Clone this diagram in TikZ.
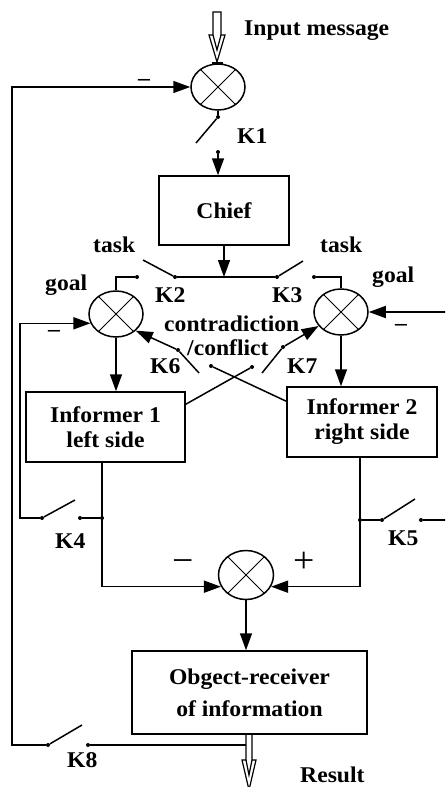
\documentclass[tikz,border=0pt]{standalone}
\usepackage{fontspec}
\setmainfont{Liberation Serif}[FakeStretch=1.05]
\usetikzlibrary{arrows.meta,shapes.geometric,calc}
\begin{document}
\begin{tikzpicture}[x=1pt,y=-1pt,
  every node/.style={font=\fontsize{22.5}{25}\selectfont\bfseries},
  lw/.style={line width=1.5pt},
  arr/.style={lw,-{Triangle[length=17pt,width=12pt]}},
  sum/.style={draw,lw,ellipse,minimum width=54pt,minimum height=46pt,inner sep=0pt},
  box/.style={draw,lw,rectangle,fill=white,align=center,inner sep=0pt},
  dot/.style={circle,fill,inner sep=0pt,minimum size=4pt},
  lbl/.style={anchor=base west,inner sep=0pt},
  sign/.style={anchor=base west,inner sep=0pt,font=\fontsize{36}{36}\selectfont\mdseries},
]
\useasboundingbox (0,0) rectangle (445,787);
\clip (0,0) rectangle (445,787);

% summing junctions
\node[sum] (c0) at (218,87) {};
\node[sum] (cL) at (116,314) {};
\node[sum] (cR) at (341,312) {};
\node[sum,minimum width=55pt,minimum height=49pt] (cB) at (246,575) {};
\foreach \n in {c0,cL,cR,cB} {\draw[line width=1pt] (\n.45) -- (\n.225) (\n.135) -- (\n.315);}

% boxes
\node[box,minimum width=130pt,minimum height=69pt] (chief) at (224,210.5) {Chief};
\node[box,minimum width=159pt,minimum height=70pt] (inf1) at (105.5,427) {Informer 1\\left side};
\node[box,minimum width=150pt,minimum height=70pt] (inf2) at (362,422) {Informer 2\\right side};
\node[box,minimum width=235pt,minimum height=83pt] (obj) at (249.5,692.5) {Obgect-receiver\\[7pt]of information};

% contact dots
\node[dot] (k1a) at (218,117) {};
\node[dot] (k1b) at (218,152) {};
\node[dot] (k2a) at (175,277) {};
\node[dot] (k2b) at (137,277) {};
\node[dot] (k3a) at (277,277) {};
\node[dot] (k3b) at (314,277) {};
\node[dot] (k4a) at (42,518) {};
\node[dot] (k4b) at (80,518) {};
\node[dot] (k4c) at (102,518) {};
\node[dot] (k5c) at (360,520) {};
\node[dot] (k5a) at (382,520) {};
\node[dot] (k5b) at (421,520) {};
\node[dot] (k6a) at (178,350) {};
\node[dot] (k6b) at (211,366) {};
\node[dot] (k7a) at (252,367) {};
\node[dot] (k7b) at (283,347) {};
\node[dot] (k8a) at (48,745) {};
\node[dot] (k8b) at (88,745) {};

% switch blade ends and helper coordinates
\coordinate (b1) at (196,143);
\coordinate (b2) at (143,260);
\coordinate (b3) at (303,261);
\coordinate (b4) at (75,500);
\coordinate (b5) at (415,499);
\coordinate (b6) at (199,373);
\coordinate (b7) at (262,373);
\coordinate (b8) at (82,725);
\coordinate (fb1) at (12,745);
\coordinate (fb2) at (12,87);
\coordinate (lx) at (20,0);
\coordinate (rx) at (446,0);
\coordinate (o1) at (102,0);
\coordinate (o2) at (360,0);
\coordinate (sh) at (246,745);

% input hollow arrow
\draw[line width=1.2pt] (213,12) -- (213,35) -- (209,35) -- (217,62) -- (225,35) -- (221,35) -- (221,12) -- cycle;
\draw[line width=1.2pt] (213,35) -- (217,50) -- (221,35);
\draw[line width=2.5pt] (212,63) -- (223,63);

% feedback loop and K8
\draw[arr] (k8a) -- (fb1) -- (fb2) -- (c0.west);
\draw[lw] (k8a) -- (b8);
\draw[lw] (k8b) -- (sh);

% K1 and chief
\draw[lw] (c0) -- (k1a);
\draw[lw] (k1a) -- (b1);
\draw[arr] (k1b) -- (k1b |- chief.north);
\draw[arr] (chief.south) -- (chief.south |- k2a);

% task bus K2 K3
\draw[lw] (k2a) -- (k3a);
\draw[lw] (k2a) -- (b2);
\draw[lw] (k3a) -- (b3);
\draw[lw] (k2b) -| (cL.north);
\draw[lw] (k3b) -| (cR.north);

% side inputs
\draw[arr] (k4a) -- (lx |- k4a) -- (lx |- cL.200) -- (cL.200);
\draw[arr] (rx |- cR.east) -- (cR.east);
\draw[lw] (k4a) -- (b4);
\draw[lw] (k4b) -- (k4c);
\draw[lw] (k5c) -- (k5a);
\draw[lw] (k5a) -- (b5);
\draw[lw] (k5b) -- (rx |- k5b);

% to informers
\draw[arr] (cL.south) -- (cL.south |- inf1.north);
\draw[arr] (cR.south) -- (cR.south |- inf2.north);

% crossing K6 K7
\draw[arr] (k6a) -- (cL.-40);
\draw[lw] (k6a) -- (b6);
\draw[lw] (k6b) -- ($(inf2.north west)+(0,15)$);
\draw[lw] ($(inf1.north east)+(0,13)$) -- (k7a);
\draw[lw] (k7b) -- (b7);
\draw[arr] (k7b) -- (cR.212);

% informer outputs
\draw[arr] (o1 |- inf1.south) |- (cB.205);
\draw[arr] (o2 |- inf2.south) |- (cB.-25);
\draw[arr] (cB.south) -- (cB.south |- obj.north);

% result hollow arrow
\draw[line width=1.2pt] (246,734) -- (246,760) -- (242,760) -- (249,790) -- (256,760) -- (252,760) -- (252,734);
\draw[line width=1.2pt] (246,760) -- (249,775) -- (252,760);

% labels
\node[lbl] (tin) at (244,35) {Input message};
\node[lbl] (tk1) at (237,143) {K1};
\node[lbl] (tt2) at (93,252) {task};
\node[lbl] (tt3) at (320,252) {task};
\node[lbl] (tg1) at (45,290) {goal};
\node[lbl] (tg2) at (372,282) {goal};
\node[lbl] (tk2) at (155,302) {K2};
\node[lbl] (tk3) at (272,302) {K3};
\node[lbl] (tcon) at (164,331) {contradiction};
\node[lbl] (tcf) at (187,355) {/conflict};
\node[lbl] (tk6) at (150,373) {K6};
\node[lbl] (tk7) at (287,373) {K7};
\node[lbl] (tk4) at (55,548) {K4};
\node[lbl] (tk5) at (388,545) {K5};
\node[lbl] (tk8) at (67,767) {K8};
\node[lbl] (tres) at (300,782) {Result};
\node[lbl] (m0) at (138,85) {–};
\node[lbl] (mL) at (48,336) {–};
\node[lbl] (mR) at (395,330) {–};
\node[sign] (mB) at (172,572) {−};
\node[sign] (pB) at (293,572) {+};
\end{tikzpicture}
\end{document}
